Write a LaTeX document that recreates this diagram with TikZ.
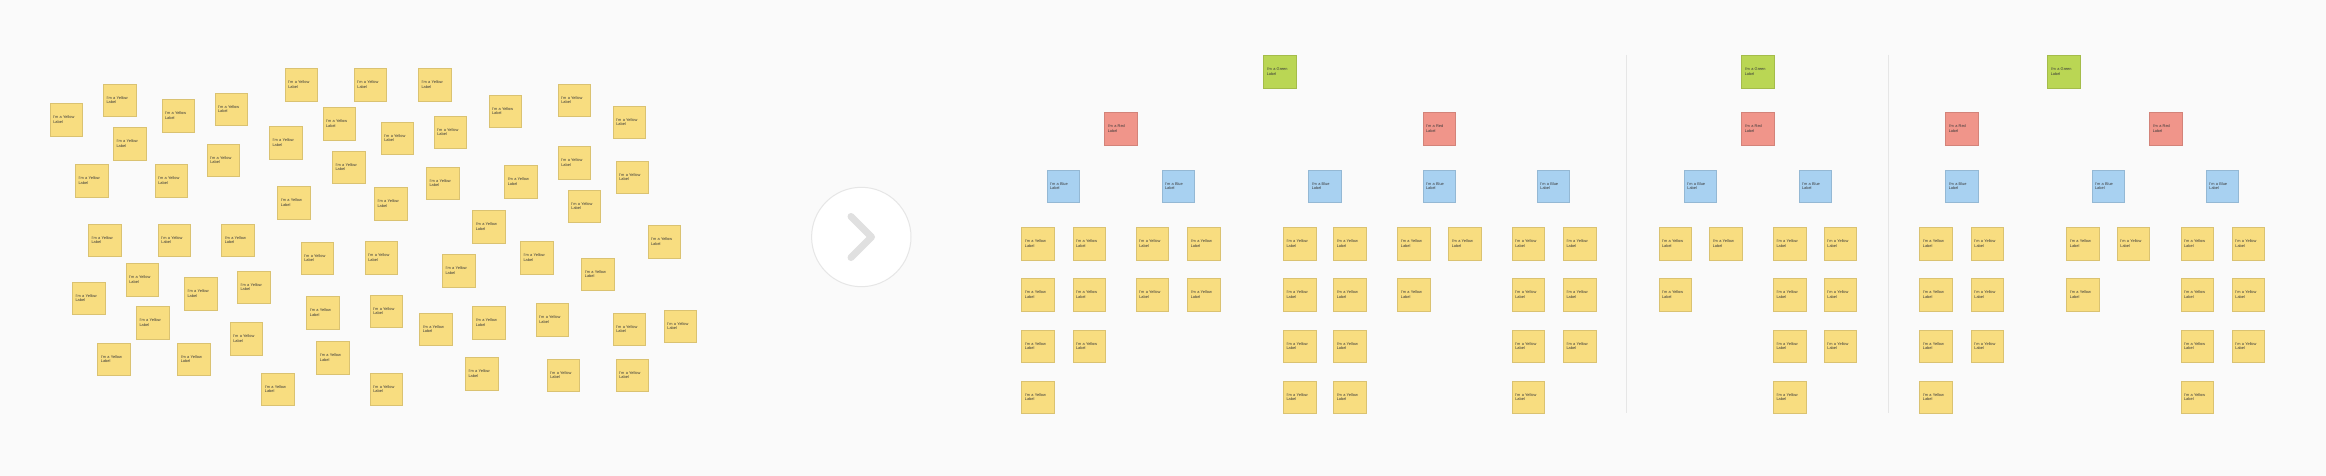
\documentclass[tikz,border=0pt]{standalone}
\usepackage{fontspec}
\setmainfont{Liberation Sans}
\usetikzlibrary{shadows}
\definecolor{bg}{HTML}{FAFAFA}
\definecolor{stickyyellow}{HTML}{F8DD80}
\definecolor{stickygreen}{HTML}{BAD654}
\definecolor{stickyred}{HTML}{F0958A}
\definecolor{stickyblue}{HTML}{A8D1F1}
\definecolor{ink}{HTML}{3A3A3A}
\definecolor{rulegray}{HTML}{E6E6E6}
\definecolor{chevrongray}{HTML}{E0E0E0}
\begin{document}
\begin{tikzpicture}[x=1pt, y=-1pt,
    sticky/.style={rectangle, fill=#1, draw=#1!88!black, line width=0.3pt,
      drop shadow={shadow xshift=0.4pt, shadow yshift=-0.7pt, opacity=0.12, fill=black},
      minimum height=32.5pt, text width=25.9pt, inner xsep=3.3pt, inner ysep=0pt,
      align=left, font=\fontsize{3.9}{4.4}\selectfont, text=ink},
    divider/.style={draw=rulegray, line width=1pt},
    chevron/.style={draw=chevrongray, line width=7pt, line cap=round, line join=round}]
    \useasboundingbox (0,0) rectangle (2326,476);
    \fill[bg] (0,0) rectangle (2326,476);
    % unsorted stickies
    \foreach \x/\y [count=\i] in {66.2/119.7, 119.5/100.3, 129.5/143.8, 91.5/180.5,
        178/115.5, 231/109, 171.2/180.5, 223.2/160, 301.2/84.5, 285.5/142.8,
        339/123.7, 348.5/167.2, 293.8/202.8, 104.5/240.2, 174.3/240.2, 237.7/240.2,
        317.2/258.2, 142.2/279.5, 88.5/298.3, 200.5/293.7, 253.5/287.2, 322.8/312.8,
        152.5/322.7, 246.2/338.7, 113.8/359.3, 193.7/359.3, 332.8/357.7, 277.8/389.3,
        370.3/84.7, 434.5/84.7, 397.2/138, 450.2/132, 505/111.2, 574.2/100.3,
        629.2/122.3, 442.5/183.2, 390.5/203.7, 520.7/181.8, 574.2/162.8, 632.2/177.2,
        584.3/206, 488.7/226.8, 664/241.8, 381.2/257.8, 458.5/270.8, 536.5/257.8,
        597.8/274.2, 386.2/311.2, 435.7/329.3, 488.7/322.7, 552.2/319.5, 629.2/329.3,
        680.3/326, 481.5/373.5, 563.2/375.2, 632.2/375.2, 386.2/389.3}
        \node[sticky=stickyyellow] (loose\i) at (\x,\y) {I'm a Yellow\\Label};
    % arrow button
    \node[circle, fill=white, draw=rulegray, line width=1pt, minimum size=99.4pt] (next) at (861.3,237) {};
    \draw[chevron] ([shift={(-10.3,-20.5)}]next.center) -- ([shift={(10.2,0)}]next.center)
        -- ([shift={(-10.3,20.5)}]next.center);
    % sorted trees
    \foreach \x [count=\i] in {1279.7, 1757.7, 2063.7}
        \node[sticky=stickygreen] (green\i) at (\x,71.5) {I'm a Green\\Label};
    \foreach \x [count=\i] in {1120.7, 1439, 1757.7, 1961.7, 2165.7}
        \node[sticky=stickyred] (red\i) at (\x,128.7) {I'm a Red\\Label};
    \foreach \x [count=\i] in {1063, 1178, 1324.7, 1439, 1553.3, 1700.3, 1815, 1961.7, 2108, 2222.3}
        \node[sticky=stickyblue] (blue\i) at (\x,186.3) {I'm a Blue\\Label};
    \foreach \x/\n [count=\c] in {1037.8/4, 1089/3, 1152.2/2, 1203.7/2, 1299.5/4, 1349.7/4,
        1413.8/2, 1464.7/1, 1528.2/4, 1579.5/3, 1675/2, 1725.7/1, 1789.5/4, 1840.3/3,
        1935.8/4, 1987.3/3, 2082.8/2, 2133.3/1, 2197/4, 2248.3/3}
        \foreach \r in {1,...,\n}
            \node[sticky=stickyyellow] (card\c-\r) at (\x,{243.5+51.2*(\r-1)}) {I'm a Yellow\\Label};
    % column dividers
    \draw[divider] (1626.7,55) -- (1626.7,413);
    \draw[divider] (1888.3,55) -- (1888.3,413);
\end{tikzpicture}
\end{document}
